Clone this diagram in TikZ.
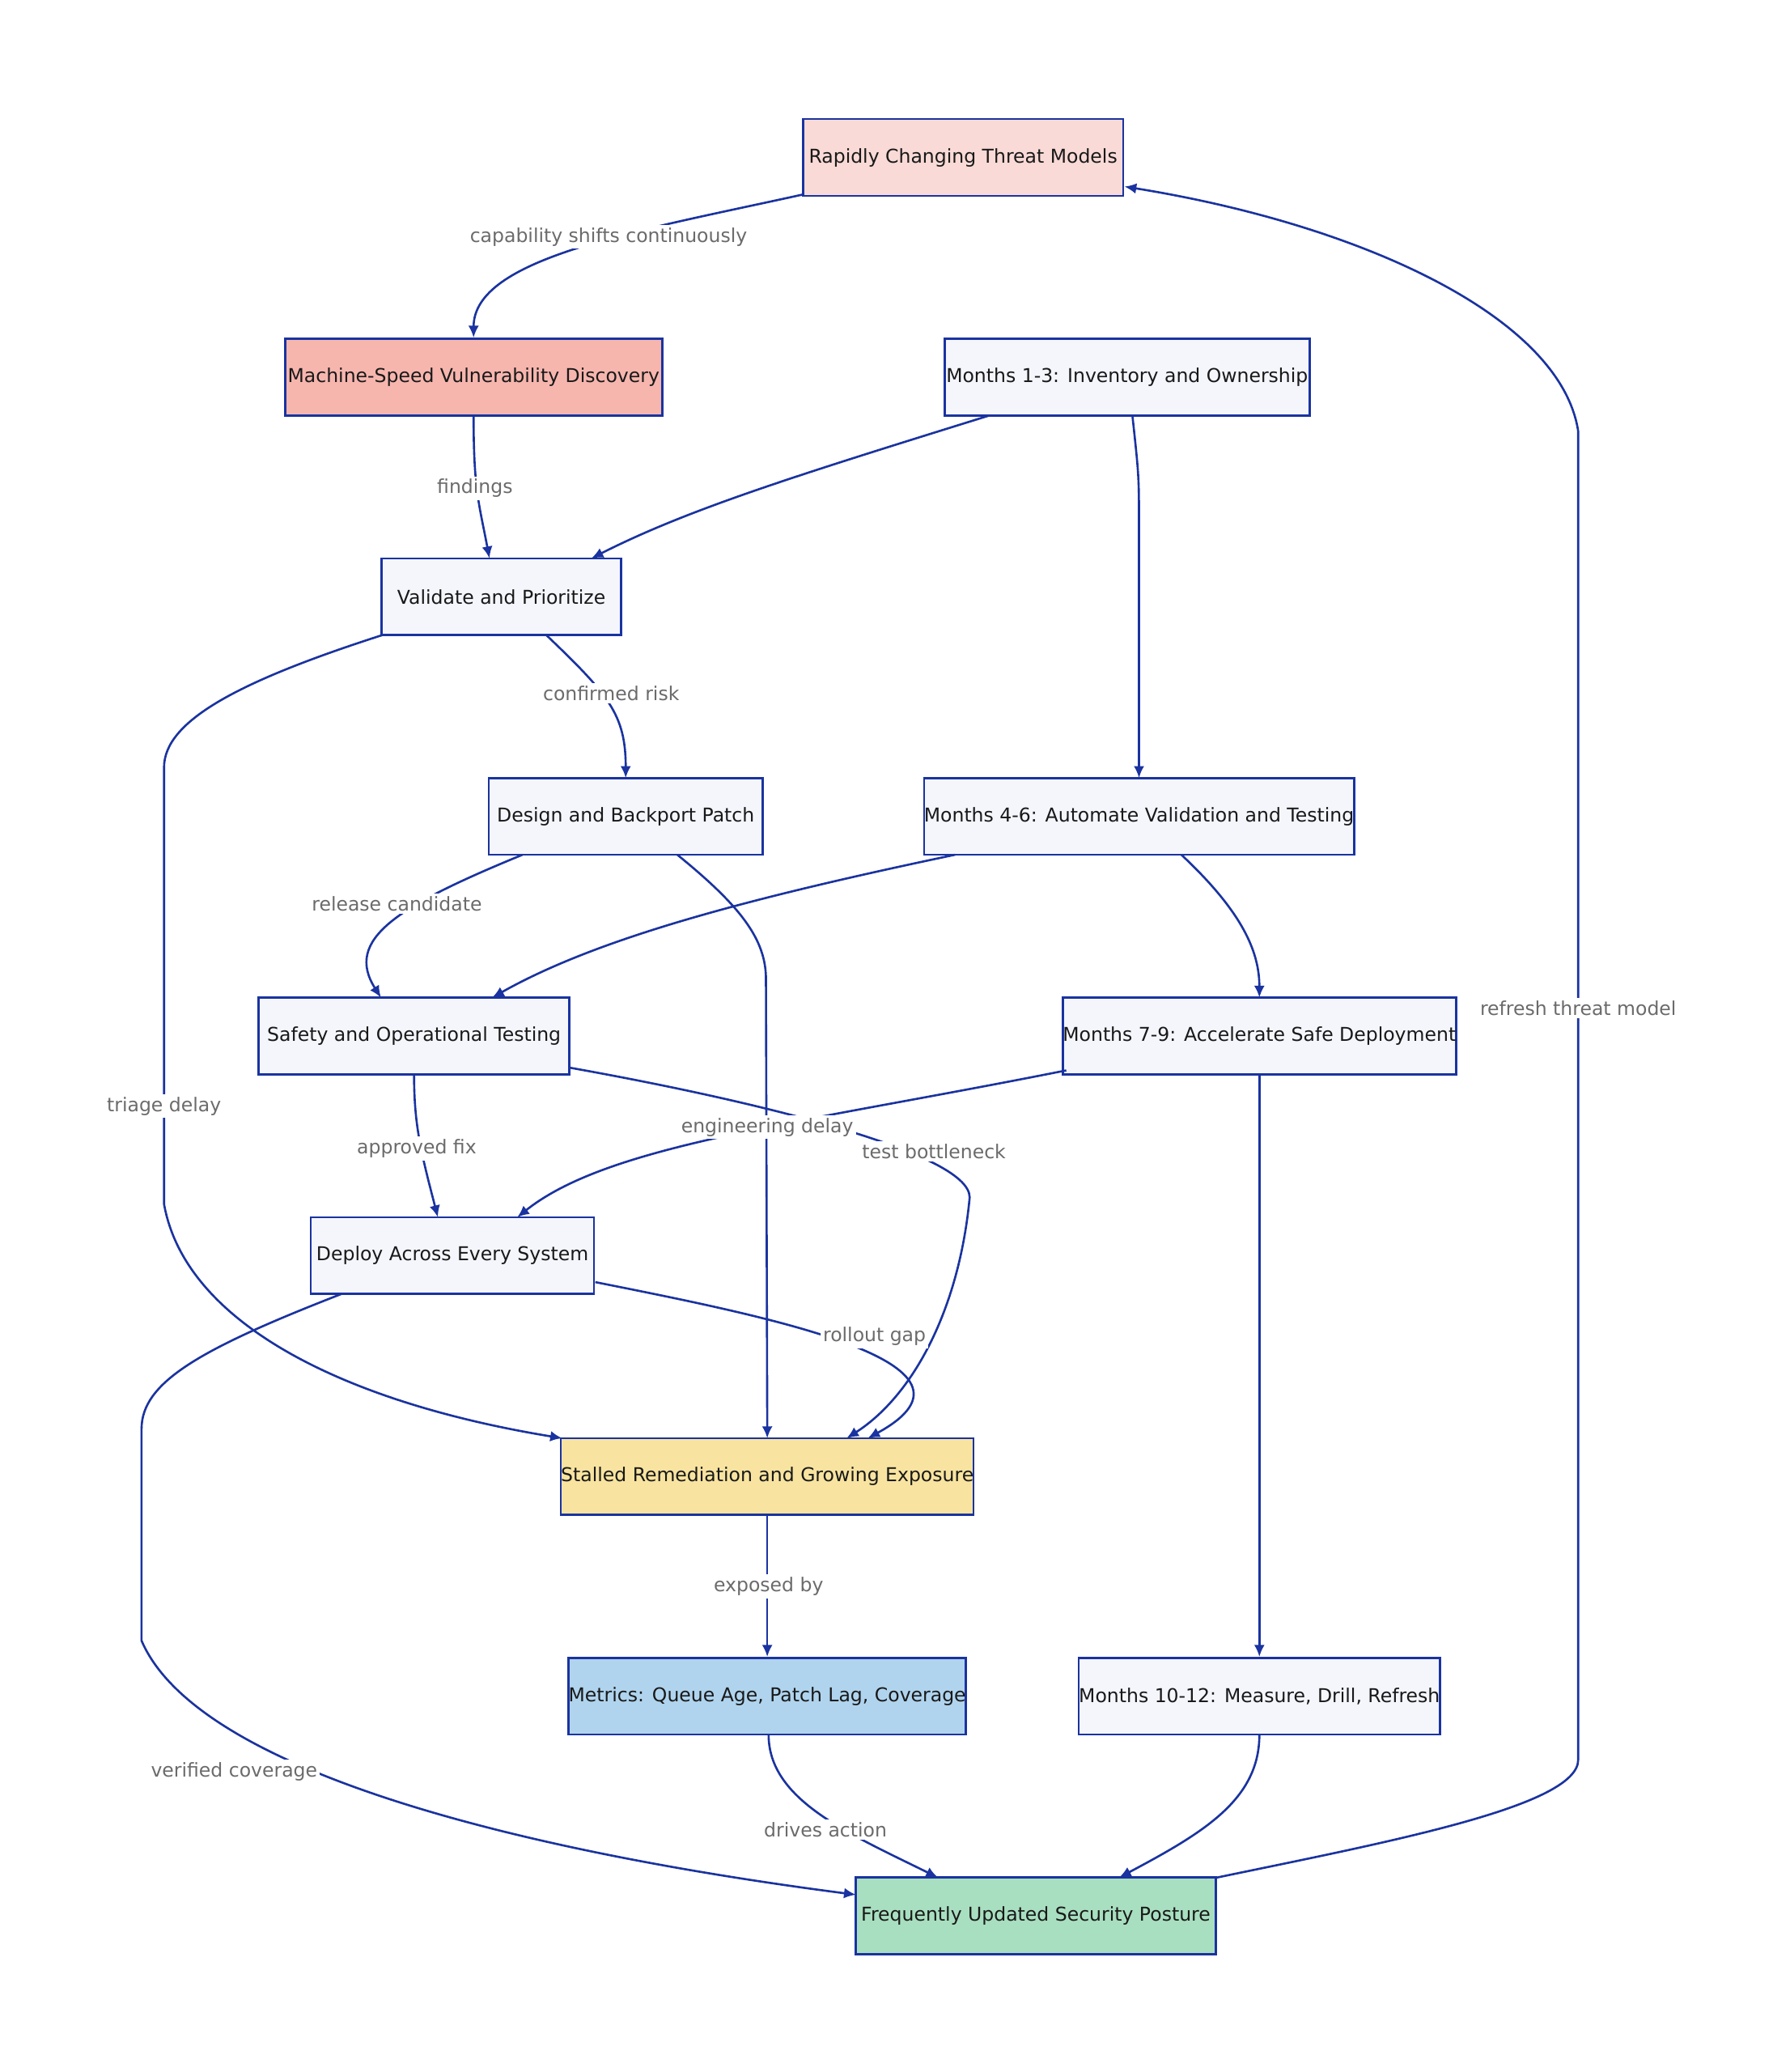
\documentclass[tikz,border=0pt]{standalone}
\usepackage{fontspec}
\setmainfont{DejaVu Sans}
\usetikzlibrary{arrows.meta}
\definecolor{edge}{HTML}{1A33A0}
\definecolor{nfill}{HTML}{F4F6FC}
\begin{document}
\begin{tikzpicture}[x=0.5pt,y=-0.5pt,
 box/.style={draw=edge,line width=0.8pt,fill=nfill,minimum height=29pt,inner sep=0pt,font=\fontsize{7.2}{8}\selectfont,text=black!90},
 e/.style={draw=edge,line width=0.8pt,-{Latex[length=4.5pt,width=4pt]}},
 lb/.style={fill=white,inner sep=1pt,text=black!58,font=\fontsize{7.2}{8}\selectfont}]
\useasboundingbox[fill=white] (0,0) rectangle (1340,1566);
\node[box,minimum width=121pt,fill={rgb,255:red,249;green,218;blue,214}] (thr) at (728,119) {Rapidly Changing Threat Models};
\node[box,minimum width=142.5pt,fill={rgb,255:red,246;green,182;blue,174}] (mach) at (358,285) {Machine-Speed Vulnerability Discovery};
\node[box,minimum width=138pt] (m13) at (852,285) {Months 1-3: Inventory and Ownership};
\node[box,minimum width=90.5pt] (val) at (379,451) {Validate and Prioritize};
\node[box,minimum width=103.5pt] (des) at (473,617) {Design and Backport Patch};
\node[box,minimum width=161pt] (m46) at (861,617) {Months 4-6: Automate Validation and Testing};
\node[box,minimum width=117.5pt] (saf) at (313,783) {Safety and Operational Testing};
\node[box,minimum width=146pt] (m79) at (952,783) {Months 7-9: Accelerate Safe Deployment};
\node[box,minimum width=107pt] (dep) at (342,949) {Deploy Across Every System};
\node[box,minimum width=156pt,fill={rgb,255:red,248;green,228;blue,160}] (sta) at (580,1116) {Stalled Remediation and Growing Exposure};
\node[box,minimum width=147pt,fill={rgb,255:red,176;green,212;blue,238}] (met) at (580,1282) {Metrics: Queue Age, Patch Lag, Coverage};
\node[box,minimum width=136.5pt] (m10) at (952,1282) {Months 10-12: Measure, Drill, Refresh};
\node[box,minimum width=136pt,fill={rgb,255:red,168;green,223;blue,192}] (pos) at (783,1448) {Frequently Updated Security Posture};

\draw[e] (607,147) .. controls (480,175) and (358,195) .. (mach.north);
\draw[e] (mach.south) .. controls (358,370) and (362,380) .. (370,422);
\draw[e] (748,314) .. controls (600,360) and (520,385) .. (447,422);
\draw[e] (856,314) .. controls (861,360) .. (861,400) -- (861,588);
\draw[e] (413,480) .. controls (460,525) and (473,540) .. (473,588);
\draw[e] (289,480) .. controls (180,515) and (124,545) .. (124,580) -- (124,910) .. controls (140,1000) and (260,1060) .. (425,1087);
\draw[e] (395,646) .. controls (300,685) and (260,710) .. (288,754);
\draw[e] (512,646) .. controls (560,685) and (579,710) .. (579,740) -- (580,1087);
\draw[e] (722,646) .. controls (560,680) and (450,710) .. (372,754);
\draw[e] (893,646) .. controls (940,690) and (952,720) .. (952,754);
\draw[e] (313,812) .. controls (313,850) and (318,870) .. (331,920);
\draw[e] (431,807) .. controls (560,830) and (733,870) .. (733,905) .. controls (725,990) and (690,1055) .. (640,1087);
\draw[e] (806,809) .. controls (600,850) and (460,865) .. (391,920);
\draw[e] (m79.south) -- (m10.north);
\draw[e] (450,969) .. controls (580,995) and (760,1030) .. (656,1087);
\draw[e] (258,978) .. controls (150,1020) and (107,1045) .. (107,1080) -- (107,1240) .. controls (150,1340) and (400,1400) .. (647,1432);
\draw[e] (sta.south) -- (met.north);
\draw[e] (581,1311) .. controls (581,1360) and (640,1385) .. (709,1419);
\draw[e] (952,1311) .. controls (952,1360) and (910,1385) .. (846,1419);
\draw[e] (920,1419) .. controls (1050,1392) and (1193,1365) .. (1193,1330) -- (1193,326) .. controls (1180,240) and (1030,170) .. (850,141);

\node[lb] at (460,179) {capability shifts continuously};
\node[lb] at (359,369) {findings};
\node[lb] at (462,524) {confirmed risk};
\node[lb] at (124,836) {triage delay};
\node[lb] at (300,683) {release candidate};
\node[lb] at (580,852) {engineering delay};
\node[lb] at (706,870) {test bottleneck};
\node[lb] at (315,868) {approved fix};
\node[lb] at (661,1010) {rollout gap};
\node[lb] at (177,1339) {verified coverage};
\node[lb] at (581,1199) {exposed by};
\node[lb] at (624,1383) {drives action};
\node[lb] at (1193,762) {refresh threat model};
\end{tikzpicture}
\end{document}
